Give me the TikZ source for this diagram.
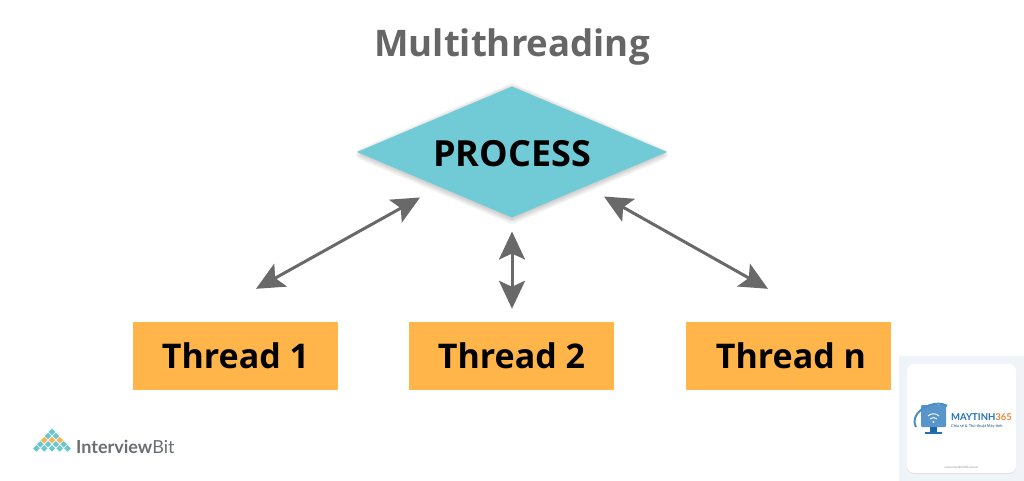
\documentclass[tikz,border=0pt]{standalone}
\usepackage{fontspec}
\setmainfont{Open Sans}
\newfontfamily\logofont{Lato}
\usetikzlibrary{shapes.geometric,arrows.meta,calc}
\definecolor{tealfill}{HTML}{71CBD6}
\definecolor{threadfill}{HTML}{FFB54A}
\definecolor{arrowgrey}{HTML}{696969}
\definecolor{titlegrey}{HTML}{666666}
\definecolor{wmback}{HTML}{EFF4F9}
\definecolor{wmblue}{HTML}{1F72B8}
\definecolor{wmorange}{HTML}{E8893A}
\definecolor{logogrey}{HTML}{6A6F72}
\definecolor{logoteal}{HTML}{6CC6D0}
\definecolor{logoorange}{HTML}{F7B352}
\tikzset{
  threadbox/.style={fill=threadfill,minimum width=205pt,minimum height=68pt,inner sep=0pt,font=\fontsize{34}{38}\selectfont\bfseries,text=black},
  link/.style={draw=arrowgrey,line width=3pt,{Stealth[length=28pt,width=26pt,inset=6pt]}-{Stealth[length=28pt,width=26pt,inset=6pt]}},
  cell/.style={diamond,minimum width=8pt,minimum height=8pt,inner sep=0pt,draw=white,line width=0.5pt}
}
\begin{document}
\begin{tikzpicture}[x=1pt,y=-1pt]
\useasboundingbox (0,0) rectangle (1024,481);
\fill[white] (0,0) rectangle (1024,481);
\node[font=\fontsize{36.6}{42}\selectfont\bfseries,text=titlegrey] (title) at (512,47) {Multithreading};
% soft shadow
\foreach \w in {12,10,8,6,4,2}{
  \draw[black,opacity=0.03,line width=\w pt,line join=round] (362,154)--(512,89)--(662,154)--(512,218)--cycle;
}
\node[diamond,aspect=2.366,minimum width=310pt,minimum height=131pt,inner sep=0pt,outer sep=0pt,fill=tealfill] (proc) at (512,152) {};
\node[font=\fontsize{36}{40}\selectfont\bfseries,text=black,inner sep=0pt] (proclabel) at (512,154) {PROCESS};
\node[threadbox] (t1) at (235.5,356) {\raisebox{-1pt}{Thread 1}};
\node[threadbox] (t2) at (511.5,356) {\raisebox{-1pt}{Thread 2}};
\node[threadbox] (tn) at (788,356) {\hspace*{6pt}\raisebox{-1pt}{Thread n}};
\coordinate (a1a) at ($(t1.north)+(20.5,-33)$);
\coordinate (a1b) at ($(proc.south)+(-92,-20)$);
\coordinate (a2a) at ($(t2.north)+(0.5,-13)$);
\coordinate (a2b) at ($(proc.south)+(0,14)$);
\coordinate (a3a) at ($(tn.north)+(-20,-33)$);
\coordinate (a3b) at ($(proc.south)+(92,-21)$);
\draw[link] (a1a) -- (a1b);
\draw[link] (a2a) -- (a2b);
\draw[link] (a3a) -- (a3b);
% InterviewBit logo
\foreach \r/\c in {0/logoteal,1/logoteal,2/logoorange,3/logoteal,4/logoteal}{
  \foreach \k in {0,...,\r}{
    \node[cell,fill=\c] (c\r\k) at ({52+(\k-\r/2)*7.8},{432+\r*4.1}) {};
  }
}
\node[anchor=west,inner sep=0pt,font=\logofont\fontsize{18}{22}\selectfont,text=logogrey] (ib) at (76,447) {\textbf{Interview}Bit};
% watermark
\fill[wmback] (899,356) rectangle (1024,481);
\fill[black!12,rounded corners=7pt] (907,365) rectangle (1016,474);
\node[fill=white!97!wmback,rounded corners=7pt,minimum width=109pt,minimum height=109pt,inner sep=0pt] (card) at (961.5,418.5) {};
\fill[wmblue!75,rounded corners=1pt] (921,405) rectangle (946,427);
\fill[wmblue!90!black] (930,427) rectangle (937,432);
\fill[wmblue] (925,432) rectangle (942,433.5);
\draw[wmblue!80,line width=2pt] (916,427) .. controls (908,412) and (935,398) .. (947,406);
\draw[white,line width=0.9pt] (928,416) .. controls (931,413) and (936,413) .. (939,416);
\draw[white,line width=0.9pt] (930,419) .. controls (932,417) and (935,417) .. (937,419);
\fill[white] (933.5,422) circle (1.2pt);
\node[anchor=west,inner sep=0pt,font=\logofont\fontsize{9.5}{10}\selectfont\bfseries,text=wmblue] (wm1) at (951,417) {MAYTINH\textcolor{wmorange}{365}};
\node[anchor=west,inner sep=0pt,font=\logofont\fontsize{4}{5}\selectfont,text=wmblue!70!black] (wm2) at (951,426) {Chia sẻ \& Thủ thuật Máy tính};
\node[inner sep=0pt,font=\logofont\fontsize{3}{4}\selectfont,text=black!45] (wm3) at (961.5,468) {www.maytinh365.com.vn};
\end{tikzpicture}
\end{document}
